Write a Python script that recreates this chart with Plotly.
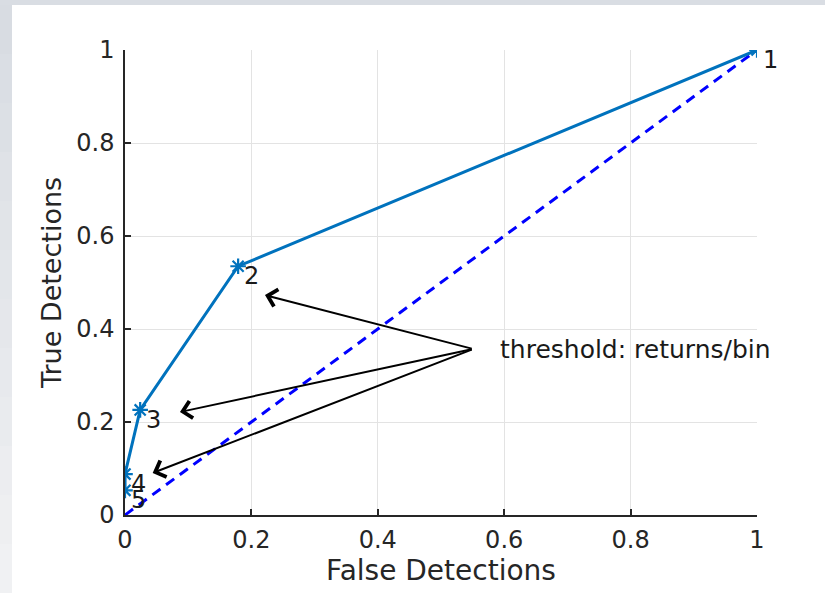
import plotly.graph_objects as go

# ROC data
false_det = [1.0, 0.179, 0.024, 0.0, 0.0]
true_det = [1.0, 0.535, 0.226, 0.088, 0.053]
point_labels = ["1", "2", "3", "4", "5"]
chance_x = [0, 1]
chance_y = [0, 1]
tick_vals = [0, 0.2, 0.4, 0.6, 0.8, 1]
tick_text = ["0", "0.2", "0.4", "0.6", "0.8", "1"]
annot_text = "threshold: returns/bin"
arrow_tail = (0.551, 0.357)
arrow_tips = [(0.2215, 0.473), (0.087, 0.2215), (0.0438, 0.0903)]

FONT = "DejaVu Sans"
DARK = "#262626"

fig = go.Figure()
fig.add_trace(go.Scatter(x=chance_x, y=chance_y, mode="lines",
                         line=dict(color="#0000FF", width=3, dash="10px,7px"),
                         hoverinfo="skip", showlegend=False))
fig.add_trace(go.Scatter(x=false_det, y=true_det, mode="lines+markers",
                         line=dict(color="#0072BD", width=3),
                         marker=dict(symbol="asterisk-open", size=13,
                                     line=dict(color="#0072BD", width=2.2)),
                         showlegend=False))

annotations = []
for xv, yv, lab in zip(false_det, true_det, point_labels):
    annotations.append(dict(x=xv, y=yv, xref="x", yref="y", text=lab,
                            showarrow=False, xanchor="left", yanchor="top",
                            xshift=5, yshift=5, borderpad=0,
                            font=dict(family=FONT, size=24, color="#1a1a1a")))
for tx, ty in arrow_tips:
    annotations.append(dict(x=tx, y=ty, xref="x", yref="y",
                            ax=arrow_tail[0], ay=arrow_tail[1], axref="x", ayref="y",
                            text="", showarrow=True, arrowhead=4, arrowsize=1.7,
                            arrowwidth=2, arrowcolor="black", standoff=0))
annotations.append(dict(x=0.59, y=0.357, xref="x", yref="y", text=annot_text,
                        showarrow=False, xanchor="left", yanchor="middle",
                        font=dict(family=FONT, size=25, color="#1a1a1a")))

# slide-like background
shapes = [dict(type="rect", xref="paper", yref="paper", x0=-0.1788, x1=1.2,
               y0=-0.2, y1=1.0968, fillcolor="white", line=dict(width=0), layer="below")]
n = 12
c0 = (0xD8, 0xDC, 0xE2)
c1 = (0xF0, 0xF1, 0xF3)
ytop, ybot = 1.0968, -0.1677
for i in range(n):
    t = i / (n - 1)
    c = tuple(int(round(a + (b - a) * t)) for a, b in zip(c0, c1))
    y1 = ytop - (ytop - ybot) * i / n
    y0 = ytop - (ytop - ybot) * (i + 1) / n
    shapes.append(dict(type="rect", xref="paper", yref="paper", x0=-0.2, x1=-0.1788,
                       y0=y0, y1=y1, fillcolor="rgb(%d,%d,%d)" % c,
                       line=dict(width=0), layer="below"))

axis_common = dict(range=[0, 1], tickvals=tick_vals, ticktext=tick_text,
                   showgrid=True, gridcolor="#e3e3e3", gridwidth=1,
                   zeroline=False, showline=True, linecolor=DARK, linewidth=1.5,
                   ticks="inside", ticklen=6, tickcolor=DARK, tickwidth=1.5,
                   tickfont=dict(family=FONT, size=24, color=DARK),
                   mirror=False, fixedrange=True)

fig.update_layout(
    width=825, height=593,
    margin=dict(l=125, r=68, t=50, b=78),
    paper_bgcolor="#d9dde3", plot_bgcolor="white",
    xaxis=dict(**axis_common, ticklabelstandoff=2,
               title=dict(text="False Detections", standoff=6,
                          font=dict(family=FONT, size=28, color=DARK))),
    yaxis=dict(**axis_common, ticklabelstandoff=4,
               title=dict(text="True Detections", standoff=7,
                          font=dict(family=FONT, size=27, color=DARK))),
    annotations=annotations, shapes=shapes,
)

fig.write_html("out.html", config={"displayModeBar": False},
               post_script="document.body.style.margin='0';document.body.style.overflow='hidden';")
